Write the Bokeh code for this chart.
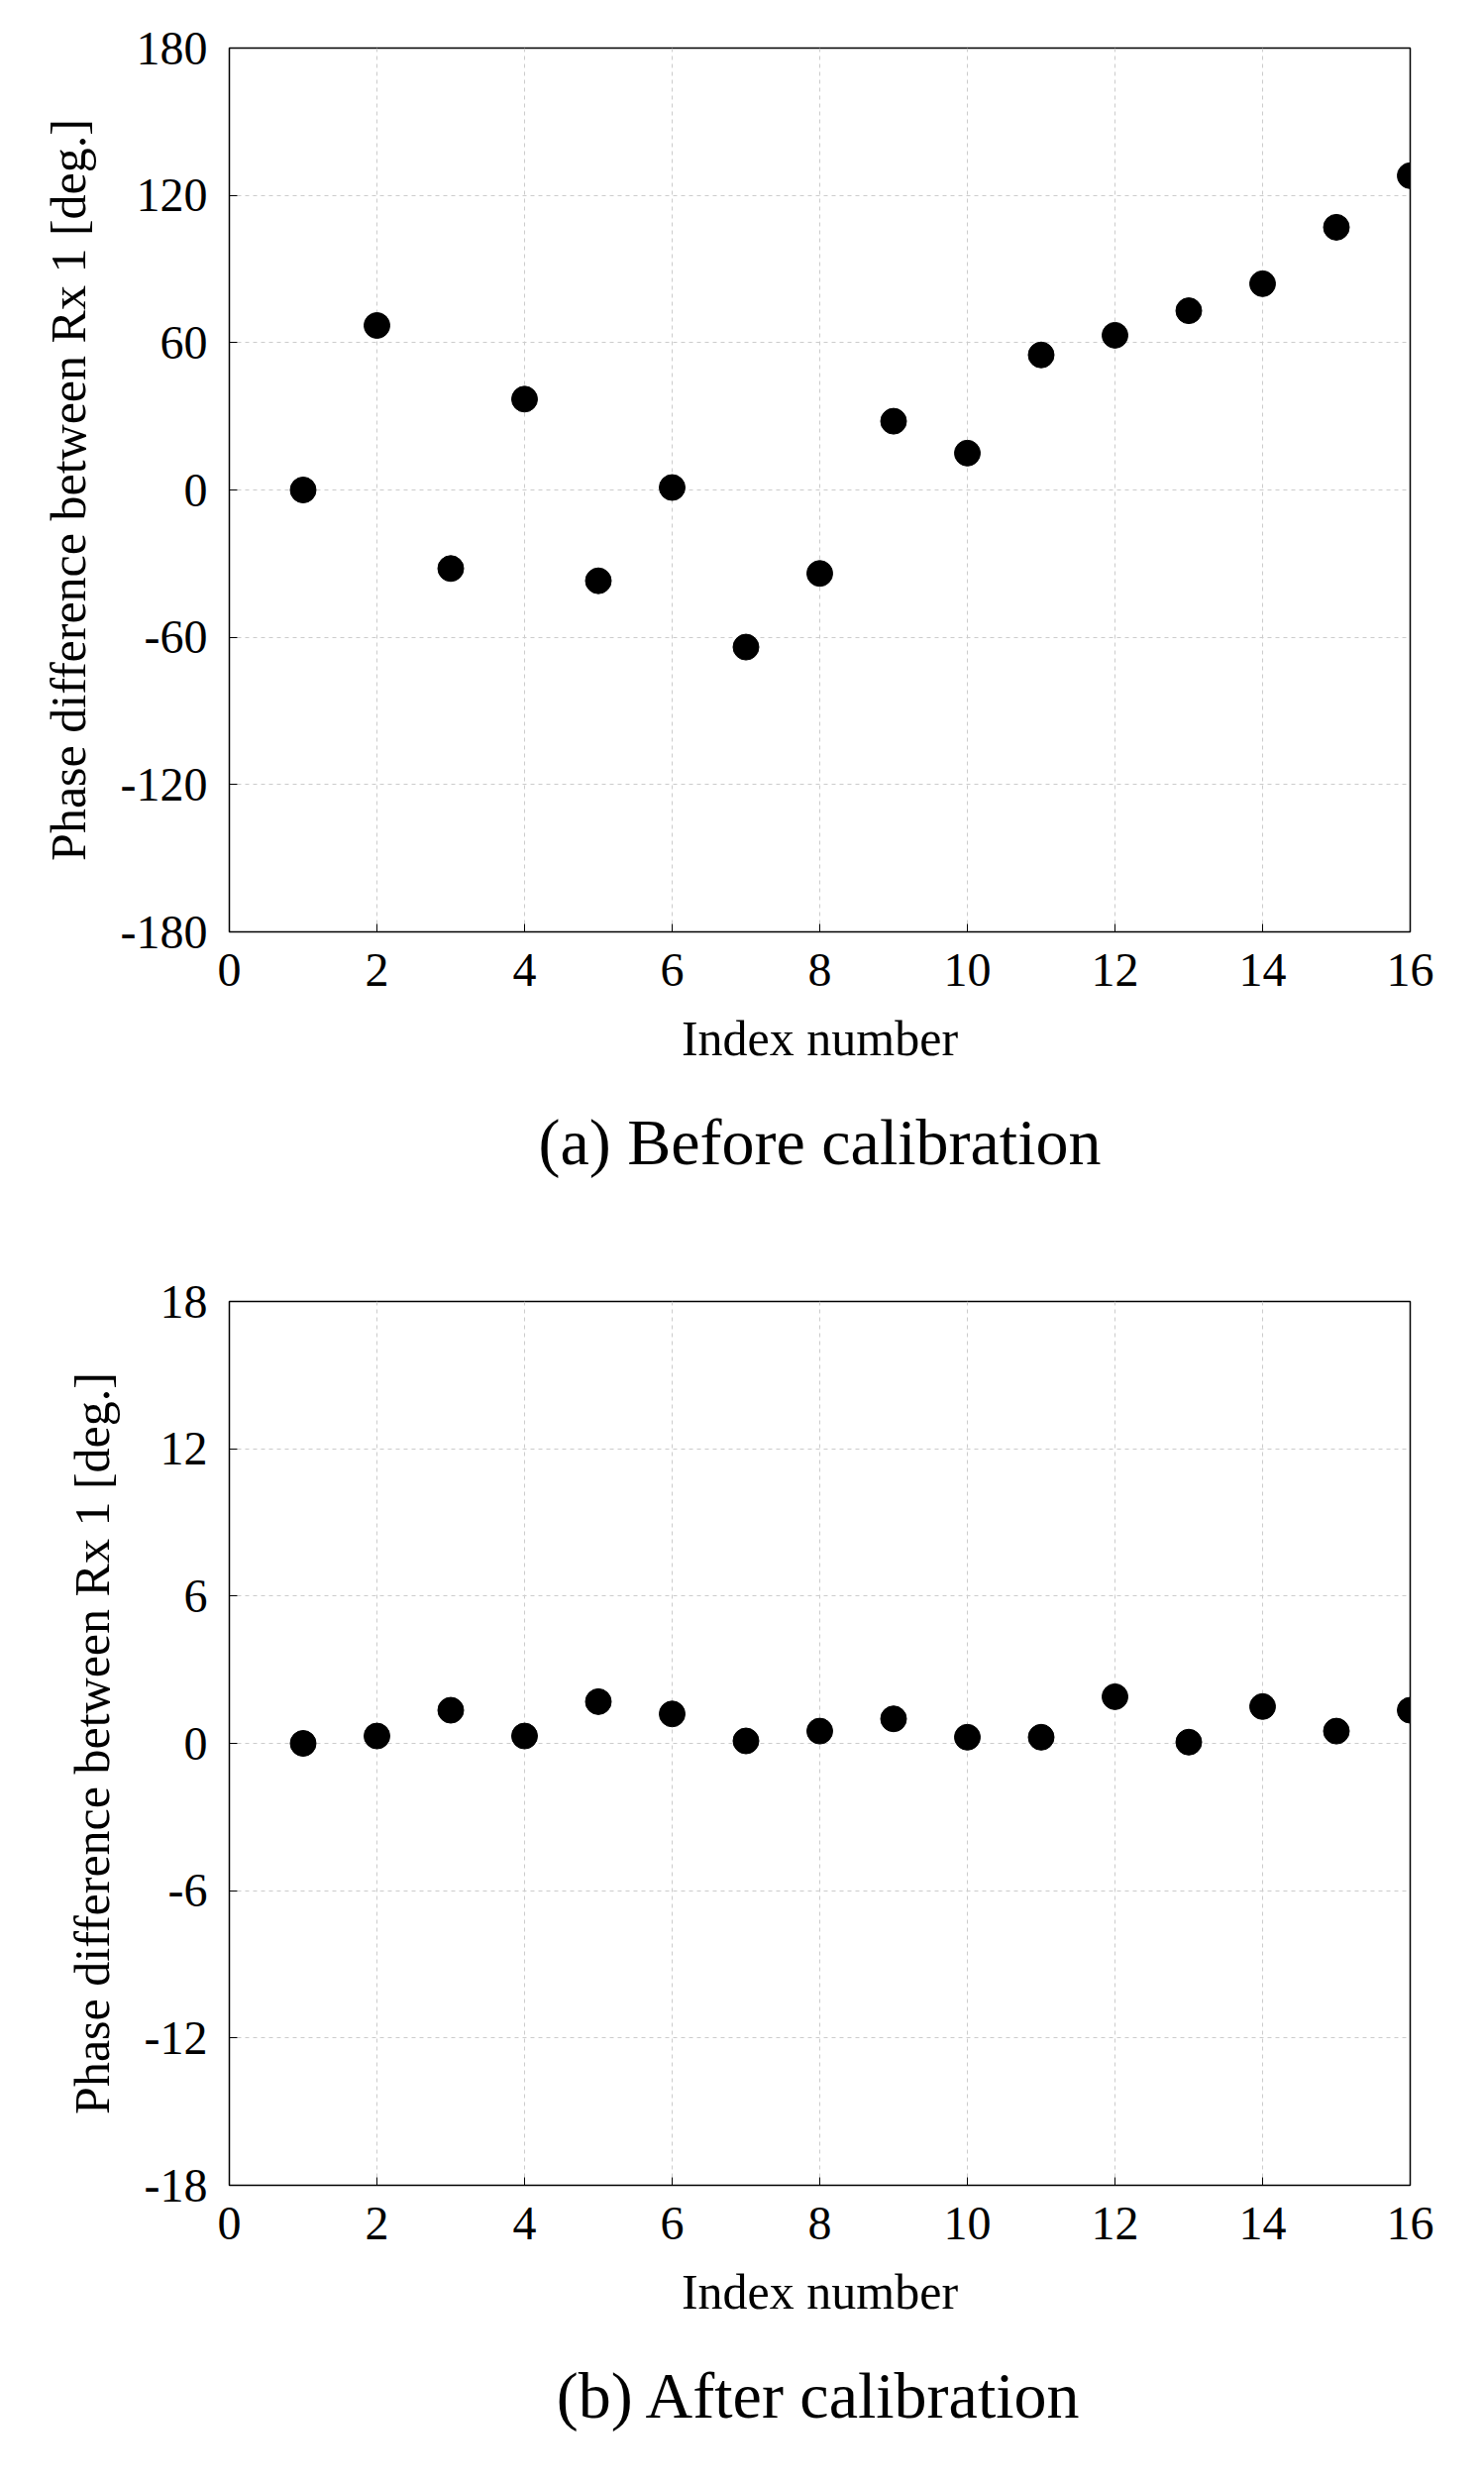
from bokeh.plotting import figure
from bokeh.layouts import column
from bokeh.models import FixedTicker, Title, Range1d, CustomJSTickFormatter
from bokeh.embed import file_html
from bokeh.resources import INLINE

index = list(range(1, 17))
before = [0, 67, -32, 37, -37, 1, -64, -34, 28, 15, 55, 63, 73, 84, 107, 128]
after = [0, 0.3, 1.35, 0.3, 1.7, 1.2, 0.1, 0.5, 1.0, 0.25, 0.25, 1.9, 0.05, 1.5, 0.5, 1.35]
x_ticks = list(range(0, 17, 2))
yticks_a = [-180, -120, -60, 0, 60, 120, 180]
yticks_b = [-18, -12, -6, 0, 6, 12, 18]
FONT = "Liberation Serif"

def make(y, yt, lim, caption, top):
    p = figure(frame_width=1192, frame_height=892, output_backend="svg",
               toolbar_location=None, min_border_left=231, min_border_top=top,
               min_border_right=40, x_range=Range1d(0, 16), y_range=Range1d(-lim, lim))
    p.scatter(index, y, size=26, color="black")
    p.xaxis.ticker = FixedTicker(ticks=x_ticks)
    p.yaxis.ticker = FixedTicker(ticks=yt)
    p.xaxis.axis_label = "Index number"
    p.yaxis.axis_label = "Phase difference between Rx 1 [deg.]"
    for ax in (p.xaxis[0], p.yaxis[0]):
        ax.formatter = CustomJSTickFormatter(code="return tick.toString();")
        ax.axis_label_text_font = FONT
        ax.axis_label_text_font_style = "normal"
        ax.axis_label_text_font_size = "50px"
        ax.major_label_text_font = FONT
        ax.major_label_text_font_size = "48px"
        ax.major_label_text_color = "black"
        ax.axis_label_text_color = "black"
        ax.minor_tick_line_color = None
        ax.major_tick_in = 8
        ax.major_tick_out = 0
        ax.axis_line_color = "black"
        ax.major_label_standoff = 22
        ax.axis_label_standoff = 22
    p.outline_line_color = "black"
    p.outline_line_width = 1.5
    p.grid.grid_line_color = "#cccccc"
    p.grid.grid_line_dash = "4 4"
    t = Title(text=caption, align="center", text_font=FONT, text_font_size="66px",
              text_font_style="normal", text_color="black", standoff=70)
    p.add_layout(t, "below")
    return p

p1 = make(before, yticks_a, 180, "(a) Before calibration", 48)
p2 = make(after, yticks_b, 18, "(b) After calibration", 90)
layout = column(p1, p2, spacing=0)
open("out.html", "w").write(file_html(layout, INLINE))
